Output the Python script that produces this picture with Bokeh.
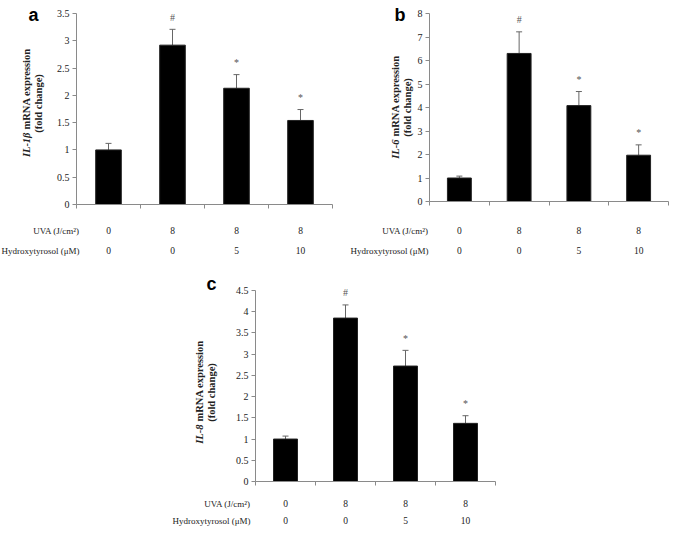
import math
from bokeh.plotting import figure
from bokeh.models import (ColumnDataSource, Range1d, LinearAxis, FixedTicker,
                          CustomJSTickFormatter, Whisker, TeeHead, Spacer)
from bokeh.layouts import column, row
from bokeh.core.properties import value
from bokeh.embed import file_html
from bokeh.resources import INLINE

# ---------------- data ----------------
uva_labels = ["0", "8", "8", "8"]
hydroxytyrosol_labels = ["0", "0", "5", "10"]
sig_marks = ["", "#", "*", "*"]

il1b_mean = [1.0, 2.92, 2.13, 1.54]
il1b_err = [0.12, 0.29, 0.25, 0.20]
il1b_ticks = [0, 0.5, 1, 1.5, 2, 2.5, 3, 3.5]

il6_mean = [1.0, 6.30, 4.08, 1.97]
il6_err = [0.08, 0.92, 0.60, 0.44]
il6_ticks = [0, 1, 2, 3, 4, 5, 6, 7, 8]

il8_mean = [1.0, 3.85, 2.72, 1.37]
il8_err = [0.07, 0.31, 0.37, 0.18]
il8_ticks = [0, 0.5, 1, 1.5, 2, 2.5, 3, 3.5, 4, 4.5]

row_names = ["UVA (J/cm²)", "Hydroxytyrosol (μM)"]

SERIF = value("Liberation Serif")
SANS = value("Liberation Sans")
AXIS_COLOR = "#8a8a8a"
TEXT_COLOR = "#222222"


def panel(letter, gene, means, errs, yticks, W, H, ax_px, cat_px, top_px, zero_px,
          row1_px, row2_px, rowlab_px, letter_xy, ylab_x1, ylab_x2, ylab_cy, gene_len):
    ymax = yticks[-1]
    ppu = (zero_px - top_px) / ymax
    x0 = -ax_px / cat_px
    x1 = (W - ax_px) / cat_px
    y1 = ymax + top_px / ppu
    y0 = -(H - zero_px) / ppu

    def dx(px):
        return x0 + px / cat_px

    def dy(px):
        return y1 - px / ppu

    p = figure(width=W, height=H, x_range=Range1d(x0, x1), y_range=Range1d(y0, y1),
               output_backend="svg", toolbar_location=None,
               x_axis_type=None, y_axis_type=None, min_border=0,
               outline_line_color=None, background_fill_color="white",
               border_fill_color="white")

    n = len(means)
    xs = [i + 0.5 for i in range(n)]
    upper = [m + e for m, e in zip(means, errs)]
    src = ColumnDataSource(dict(x=xs, top=means, upper=upper, uva=uva_labels,
                                hyd=hydroxytyrosol_labels, mark=sig_marks))

    # axes
    yax = LinearAxis(fixed_location=0, bounds=(0, ymax), ticker=FixedTicker(ticks=yticks),
                     formatter=CustomJSTickFormatter(code="return tick.toString()"))
    yax.axis_line_color = AXIS_COLOR
    yax.major_tick_line_color = AXIS_COLOR
    yax.major_tick_out = 4
    yax.major_tick_in = 0
    yax.minor_tick_line_color = None
    yax.major_label_standoff = 3
    yax.major_label_text_font = "Liberation Serif"
    yax.major_label_text_font_size = "10px"
    yax.major_label_text_color = TEXT_COLOR
    p.add_layout(yax, "left")

    xax = LinearAxis(fixed_location=0, bounds=(0, n), ticker=FixedTicker(ticks=list(range(n + 1))),
                     formatter=CustomJSTickFormatter(code="return ''"))
    xax.axis_line_color = AXIS_COLOR
    xax.major_tick_line_color = AXIS_COLOR
    xax.major_tick_out = 4
    xax.major_tick_in = 0
    xax.minor_tick_line_color = None
    p.add_layout(xax, "below")

    # bars + error bars
    p.vbar(x="x", top="top", bottom=0, width=0.4, source=src,
           fill_color="black", line_color="#222222", line_width=1)
    p.add_layout(Whisker(source=src, base="x", upper="upper", lower="top",
                         line_color="#666666", line_width=1, lower_head=None,
                         upper_head=TeeHead(size=6, line_color="#666666", line_width=1)))
    p.text(x="x", y="upper", text="mark", source=src, y_offset=-12,
           text_align="center", text_baseline="middle", text_font=SERIF,
           text_font_size="10px", text_color="#555555")

    # table rows under the axis
    p.text(x="x", y=dy(row1_px), text="uva", source=src, text_align="center",
           text_baseline="middle", text_font=SERIF, text_font_size="9.5px",
           text_color=TEXT_COLOR)
    p.text(x="x", y=dy(row2_px), text="hyd", source=src, text_align="center",
           text_baseline="middle", text_font=SERIF, text_font_size="9.5px",
           text_color=TEXT_COLOR)
    p.text(x=[dx(rowlab_px)] * 2, y=[dy(row1_px), dy(row2_px)], text=row_names,
           text_align="right", text_baseline="middle", text_font=SERIF,
           text_font_size="9px", text_color=TEXT_COLOR)

    # panel letter
    p.text(x=[dx(letter_xy[0])], y=[dy(letter_xy[1])], text=[letter],
           text_align="left", text_baseline="alphabetic", text_font=SANS,
           text_font_style="bold", text_font_size="18px", text_color="black")

    # y axis title (two lines, rotated)
    total = gene_len + 3 + 80
    pivot = ylab_cy + total / 2 - gene_len
    p.text(x=[dx(ylab_x1)], y=[dy(pivot)], text=[gene], angle=math.pi / 2,
           text_align="right", text_baseline="middle", text_font=SERIF,
           text_font_style="bold italic", text_font_size="10.5px", text_color=TEXT_COLOR)
    p.text(x=[dx(ylab_x1)], y=[dy(pivot)], text=["mRNA expression"], angle=math.pi / 2,
           y_offset=-3, text_align="left", text_baseline="middle", text_font=SERIF,
           text_font_style="bold", text_font_size="10.5px", text_color=TEXT_COLOR)
    p.text(x=[dx(ylab_x2)], y=[dy(ylab_cy)], text=["(fold change)"], angle=math.pi / 2,
           text_align="center", text_baseline="middle", text_font=SERIF,
           text_font_style="bold", text_font_size="10.5px", text_color=TEXT_COLOR)
    return p


pa = panel("a", "IL-1β", il1b_mean, il1b_err, il1b_ticks,
           W=333, H=262, ax_px=76, cat_px=64, top_px=13, zero_px=204,
           row1_px=230, row2_px=250, rowlab_px=79, letter_xy=(28, 14),
           ylab_x1=26, ylab_x2=38, ylab_cy=103, gene_len=25)

pb = panel("b", "IL-6", il6_mean, il6_err, il6_ticks,
           W=336, H=262, ax_px=96, cat_px=59.75, top_px=13, zero_px=201,
           row1_px=230, row2_px=250, rowlab_px=95, letter_xy=(61, 14),
           ylab_x1=62, ylab_x2=74, ylab_cy=107, gene_len=19)

pc = panel("c", "IL-8", il8_mean, il8_err, il8_ticks,
           W=344, H=264, ax_px=87, cat_px=60, top_px=28, zero_px=219,
           row1_px=241, row2_px=258, rowlab_px=82, letter_xy=(38, 21),
           ylab_x1=31, ylab_x2=43, ylab_cy=130, gene_len=19)

layout = column(row(pa, pb), row(Spacer(width=168, height=264), pc))

with open("out.html", "w") as f:
    f.write(file_html(layout, INLINE))
